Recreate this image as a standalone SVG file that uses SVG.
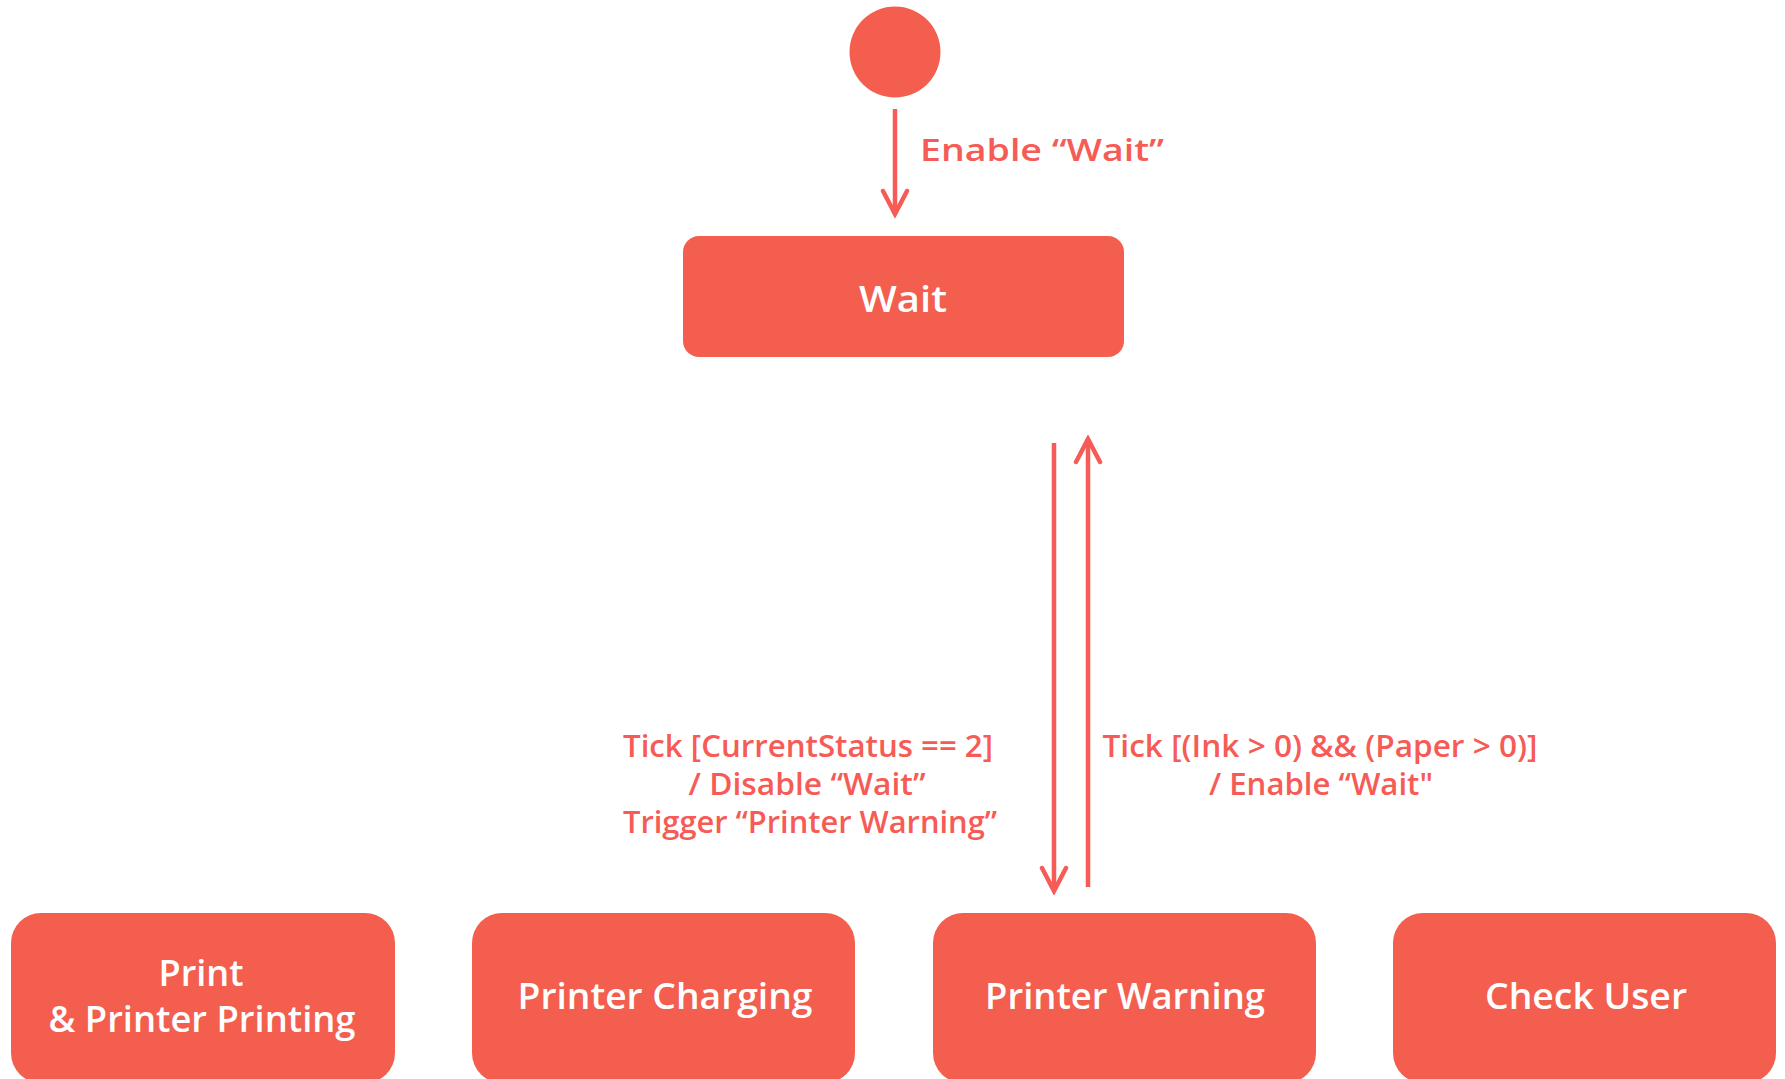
<svg xmlns="http://www.w3.org/2000/svg" width="1785" height="1079" viewBox="0 0 1785 1079">
<style>
.node{fill:#F35E4E;}
.ntext{fill:#FFFFFF;font-family:"Open Sans","Liberation Sans",sans-serif;font-weight:600;font-size:36px;text-anchor:middle;}
.label{fill:#F65B56;font-family:"Open Sans","Liberation Sans",sans-serif;font-weight:600;font-size:31px;text-anchor:middle;}
.edge{stroke:#F65B56;stroke-width:4.5;fill:none;}
</style>
<defs>
<marker id="arrow" markerUnits="userSpaceOnUse" viewBox="0 0 30 30" refX="26" refY="15" markerWidth="30" markerHeight="30" orient="auto">
<path d="M3,3 L26,15 L3,27" fill="none" stroke="#F65B56" stroke-width="4.5" stroke-linecap="round" stroke-linejoin="miter"/>
</marker>
</defs>
<rect width="1785" height="1079" fill="#FFFFFF"/>
<g id="start">
<circle class="node" cx="895" cy="52" r="45.5"/>
</g>
<g id="wait">
<rect class="node" x="683" y="236" width="441" height="121" rx="16"/>
<text class="ntext" x="903" y="312" font-size="46" textLength="88" lengthAdjust="spacingAndGlyphs">Wait</text>
</g>
<g id="print">
<rect class="node" x="11" y="913" width="384" height="170" rx="30"/>
<text class="ntext" x="201" y="986" font-size="33" textLength="85" lengthAdjust="spacingAndGlyphs">Print</text>
<text class="ntext" x="202" y="1032" font-size="33" textLength="307" lengthAdjust="spacingAndGlyphs">&amp; Printer Printing</text>
</g>
<g id="charging">
<rect class="node" x="472" y="913" width="383" height="170" rx="30"/>
<text class="ntext" x="665" y="1009" textLength="295" lengthAdjust="spacingAndGlyphs">Printer Charging</text>
</g>
<g id="warning">
<rect class="node" x="933" y="913" width="383" height="170" rx="30"/>
<text class="ntext" x="1125" y="1009" textLength="280" lengthAdjust="spacingAndGlyphs">Printer Warning</text>
</g>
<g id="checkuser">
<rect class="node" x="1393" y="913" width="383" height="170" rx="30"/>
<text class="ntext" x="1586" y="1009" textLength="202" lengthAdjust="spacingAndGlyphs">Check User</text>
</g>
<g id="connectors">
<line class="edge" x1="895" y1="109" x2="895" y2="214" marker-end="url(#arrow)"/>
<text class="label" x="1042" y="161" font-size="40" textLength="244" lengthAdjust="spacingAndGlyphs">Enable “Wait”</text>
<line class="edge" x1="1054" y1="443" x2="1054" y2="891" marker-end="url(#arrow)"/>
<line class="edge" x1="1088" y1="887" x2="1088" y2="439" marker-end="url(#arrow)"/>
<text class="label" x="808" y="757" textLength="370" lengthAdjust="spacingAndGlyphs">Tick [CurrentStatus == 2]</text>
<text class="label" x="807" y="795" textLength="237" lengthAdjust="spacingAndGlyphs">/ Disable “Wait”</text>
<text class="label" x="810" y="833" textLength="374" lengthAdjust="spacingAndGlyphs">Trigger “Printer Warning”</text>
<text class="label" x="1320" y="757" textLength="435" lengthAdjust="spacingAndGlyphs">Tick [(Ink &gt; 0) &amp;&amp; (Paper &gt; 0)]</text>
<text class="label" x="1321" y="795" textLength="224" lengthAdjust="spacingAndGlyphs">/ Enable “Wait"</text>
</g>
</svg>
